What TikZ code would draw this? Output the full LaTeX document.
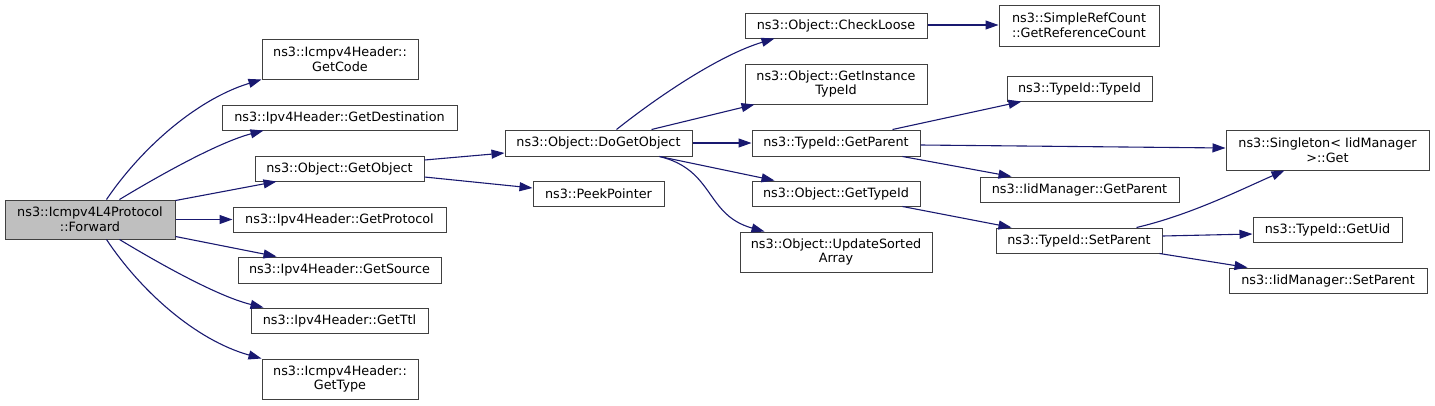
\documentclass[tikz,border=0pt]{standalone}
\usepackage{fontspec}
\setmainfont{DejaVu Sans}
\usetikzlibrary{arrows.meta}
\definecolor{edgec}{HTML}{191970}
\definecolor{boxc}{HTML}{404040}
\definecolor{rootfill}{HTML}{BFBFBF}
\tikzset{
  fn/.style={draw=boxc, line width=1pt, fill=white, inner sep=0pt, align=center,
    font=\fontsize{12.8}{14.7}\selectfont},
  rootfn/.style={fn, fill=rootfill},
  call/.style={draw=edgec, line width=1.1pt, -{Triangle[length=13pt,width=9pt]}},
}
\newcommand{\bx}[7][fn]{% style, name, x1, y1, x2, y2, text
  \node[#1, minimum width={#5-#3}, minimum height={#6-#4}] (#2) at ({(#3+#5)/2},{(#4+#6)/2}) {#7};}
\begin{document}
\begin{tikzpicture}[x=1pt,y=-1pt]
\useasboundingbox (0,0) rectangle (1435,405);
\bx[rootfn]{fwd}{5}{200}{175}{239}{ns3::Icmpv4L4Protocol\\::Forward}
\bx{code}{262}{39}{418}{79}{ns3::Icmpv4Header::\\GetCode}
\bx{dest}{222}{105}{457}{130}{ns3::Ipv4Header::GetDestination}
\bx{gobj}{255}{156}{424}{181}{ns3::Object::GetObject}
\bx{prot}{233}{207}{446}{232}{ns3::Ipv4Header::GetProtocol}
\bx{src}{238}{257}{441}{283}{ns3::Ipv4Header::GetSource}
\bx{ttl}{251}{308}{428}{333}{ns3::Ipv4Header::GetTtl}
\bx{type}{262}{359}{418}{399}{ns3::Icmpv4Header::\\GetType}
\bx{dgo}{505}{130}{692}{156}{ns3::Object::DoGetObject}
\bx{peek}{533}{181}{664}{206}{ns3::PeekPointer}
\bx{chk}{745}{13}{927}{38}{ns3::Object::CheckLoose}
\bx{gitid}{745}{64}{927}{104}{ns3::Object::GetInstance\\TypeId}
\bx{gpar}{752}{130}{920}{156}{ns3::TypeId::GetParent}
\bx{gtid}{752}{181}{920}{206}{ns3::Object::GetTypeId}
\bx{usa}{740}{232}{932}{272}{ns3::Object::UpdateSorted\\Array}
\bx{src2}{999}{5}{1159}{46}{ns3::SimpleRefCount\\::GetReferenceCount}
\bx{tid}{1007}{76}{1152}{101}{ns3::TypeId::TypeId}
\bx{sing}{1226}{130}{1429}{170}{ns3::Singleton< IidManager\\>::Get}
\bx{igp}{980}{177}{1179}{202}{ns3::IidManager::GetParent}
\bx{spar}{996}{228}{1162}{253}{ns3::TypeId::SetParent}
\bx{uid}{1253}{217}{1402}{242}{ns3::TypeId::GetUid}
\bx{isp}{1229}{268}{1427}{293}{ns3::IidManager::SetParent}
% edges from Forward
\draw[call] ([xshift=102pt]fwd.north west) .. controls (140,150) and (195,100) .. (code.south west);
\draw[call] ([xshift=115pt]fwd.north west) .. controls (165,172) and (220,142) .. ([xshift=42pt]dest.south west);
\draw[call] ([yshift=-1pt]fwd.north east) -- ([xshift=22pt]gobj.south west);
\draw[call] (fwd.east |- prot.west) -- (prot.west);
\draw[call] ([yshift=3pt]fwd.south east) -- ([xshift=39pt]src.north west);
\draw[call] ([xshift=115pt]fwd.south west) .. controls (165,267) and (220,297) .. ([xshift=13pt]ttl.north west);
\draw[call] ([xshift=102pt]fwd.south west) .. controls (140,290) and (195,340) .. (type.north west);
% level 2
\draw[call] (gobj.east |- 0,160) -- (dgo.west |- 0,153);
\draw[call] (gobj.east |- 0,177) -- (peek.west |- 0,188);
\draw[call] ([xshift=112pt]dgo.north west) .. controls (660,95) and (720,55) .. ([xshift=30pt]chk.south west);
\draw[call] ([xshift=147pt]dgo.north west) -- ([xshift=10pt]gitid.south west);
\draw[call] (dgo.east |- gpar.west) -- (gpar.west);
\draw[call] ([xshift=155pt]dgo.south west) -- ([xshift=23pt]gtid.north west);
\draw[call] ([xshift=155pt]dgo.south west) .. controls (715,170) and (705,215) .. ([xshift=25pt]usa.north west);
% level 3
\draw[call] (chk.east |- 0,25) -- (src2.west |- 0,25);
\draw[call] ([xshift=141pt]gpar.north west) -- ([xshift=15pt]tid.south west);
\draw[call] (gpar.east |- 0,145) -- (sing.west |- 0,148);
\draw[call] ([xshift=151pt]gpar.south west) -- ([xshift=32pt]igp.north west);
\draw[call] ([xshift=151pt]gtid.south west) -- ([xshift=16pt]spar.north west);
\draw[call] ([xshift=141pt]spar.north west) .. controls (1190,215) and (1240,190) .. ([xshift=59pt]sing.south west);
\draw[call] (spar.east |- 0,236) -- (uid.west |- 0,234);
\draw[call] ([xshift=164pt]spar.south west) -- ([xshift=19pt]isp.north west);
\end{tikzpicture}
\end{document}
